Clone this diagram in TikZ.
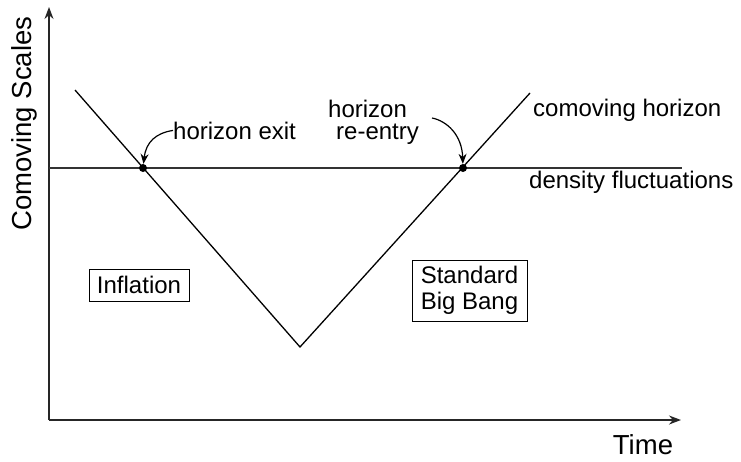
\documentclass[tikz,border=0pt]{standalone}
\usepackage{fontspec}
\setmainfont{Liberation Sans}
\usetikzlibrary{arrows.meta}
\begin{document}
\begin{tikzpicture}[x=1pt,y=-1pt,
  lbl/.style={font=\fontsize{24}{26}\selectfont, inner sep=0pt},
  axlbl/.style={font=\fontsize{27.5}{30}\selectfont, inner sep=0pt},
  boxed/.style={draw, line width=1pt, font=\fontsize{24}{26}\selectfont, inner sep=0pt, align=center},
  ln/.style={line width=1.3pt},
  axisarrow/.style={ln, black!85, -{Stealth[length=12pt, width=9pt]}},
  curvearrow/.style={line width=1.2pt, -{Stealth[length=10pt, width=8pt]}},
  dotnode/.style={circle, fill=black, inner sep=0pt, minimum size=8pt}]
\useasboundingbox (0,0) rectangle (741,461);
% axes
\coordinate (O) at (49,420);
\coordinate (ytop) at (49,7);
\coordinate (xend) at (681,420);
\draw[axisarrow] (O) -- (ytop);
\draw[axisarrow] (O) -- (xend);
% density line
\coordinate (hl) at (49,168);
\coordinate (hr) at (682,168);
\draw[ln, black!80] (hl) -- (hr);
% V
\coordinate (vl) at (75,90);
\coordinate (vb) at (300,347);
\coordinate (vr) at (530,93);
\draw[ln] (vl) -- (vb) -- (vr);
% dots
\node[dotnode] (d1) at (143,168) {};
\node[dotnode] (d2) at (463,168) {};
% labels
\node[lbl, anchor=base west] (hexit) at (173,139) {horizon exit};
\node[lbl, font=\fontsize{24}{22}\selectfont, anchor=north west, align=left] (hre) at (328,100) {horizon\\\hspace*{8pt}re-entry};
\node[lbl, anchor=base west] (comh) at (533,116) {comoving horizon};
\node[lbl, anchor=base west] (dens) at (529,188) {density fluctuations};
\node[axlbl] (time) at (643,445) {Time};
\node[axlbl, rotate=90] (ylab) at (24,123.5) {Comoving Scales};
% curved arrows
\draw[curvearrow] (hexit.west) .. controls (156,133) and (146,142) .. (d1);
\coordinate (restart) at (432,118);
\draw[curvearrow] (restart) .. controls (447,121) and (462,135) .. (d2);
% boxes
\node[boxed, minimum width=100pt, minimum height=32pt] (infl) at (139,285) {Inflation};
\node[boxed, minimum width=115pt, minimum height=61pt] (sbb) at (469.5,290.5) {Standard\\Big Bang};
\end{tikzpicture}
\end{document}
